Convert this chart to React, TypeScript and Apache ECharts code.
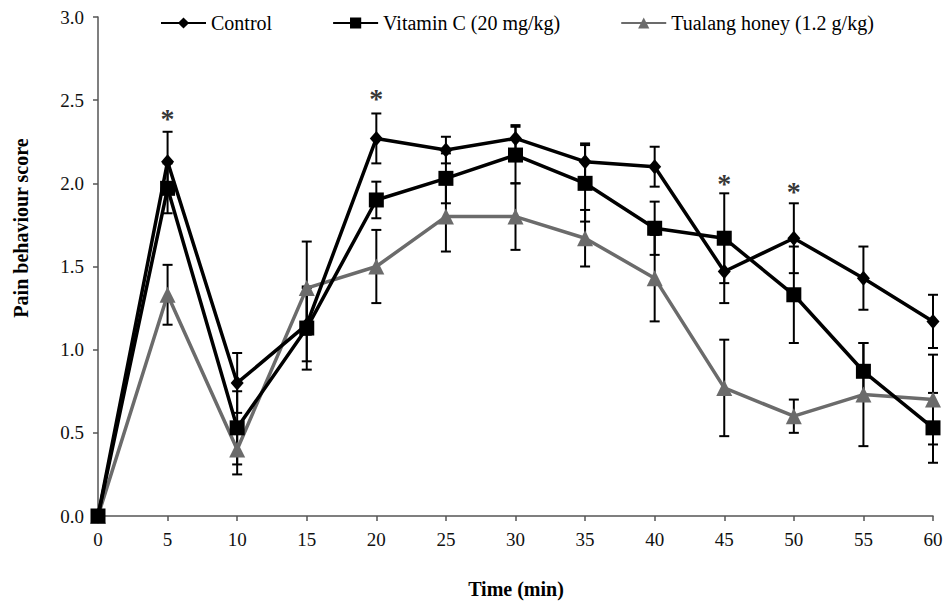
import React, { useEffect, useRef } from "react";
import * as echarts from "echarts";

const times = [0, 5, 10, 15, 20, 25, 30, 35, 40, 45, 50, 55, 60];
const controlValues = [0, 2.13, 0.8, 1.15, 2.27, 2.2, 2.27, 2.13, 2.1, 1.47, 1.67, 1.43, 1.17];
const controlErr = [0, 0.18, 0.18, 0.22, 0.15, 0.08, 0.08, 0.11, 0.12, 0.19, 0.21, 0.19, 0.16];
const vitCValues = [0, 1.97, 0.53, 1.13, 1.9, 2.03, 2.17, 2.0, 1.73, 1.67, 1.33, 0.87, 0.53];
const vitCErr = [0, 0.15, 0.22, 0.25, 0.11, 0.15, 0.17, 0.23, 0.16, 0.27, 0.29, 0.17, 0.21];
const honeyValues = [0, 1.33, 0.4, 1.37, 1.5, 1.8, 1.8, 1.67, 1.43, 0.77, 0.6, 0.73, 0.7];
const honeyErr = [0, 0.18, 0.15, 0.28, 0.22, 0.21, 0.2, 0.17, 0.26, 0.29, 0.1, 0.31, 0.27];
const starTimes = [5, 20, 45, 50];
const starLevels = [2.41, 2.53, 2.02, 1.97];
const seriesNames = ["Control", "Vitamin C (20 mg/kg)", "Tualang honey (1.2 g/kg)"];

const FONT = "'Liberation Serif', 'Times New Roman', serif";

function errData(vals: number[], errs: number[]) {
  const out: number[][] = [];
  times.forEach((t, i) => {
    if (errs[i] > 0) out.push([t, vals[i], errs[i]]);
  });
  return out;
}

function renderErr(params: any, api: any) {
  const x = api.value(0);
  const y = api.value(1);
  const e = api.value(2);
  const top = api.coord([x, y + e]);
  const bot = api.coord([x, y - e]);
  const hw = 5;
  const style = { stroke: "#000", lineWidth: 2 };
  return {
    type: "group",
    children: [
      { type: "line", shape: { x1: top[0], y1: top[1], x2: bot[0], y2: bot[1] }, style },
      { type: "line", shape: { x1: top[0] - hw, y1: top[1], x2: top[0] + hw, y2: top[1] }, style },
      { type: "line", shape: { x1: bot[0] - hw, y1: bot[1], x2: bot[0] + hw, y2: bot[1] }, style },
    ],
  };
}

export default function App() {
  const ref = useRef<HTMLDivElement>(null);
  useEffect(() => {
    if (!ref.current) return;
    const chart = echarts.init(ref.current, null, { renderer: "svg" });
    const pts = (vals: number[]) => times.map((t, i) => [t, vals[i]]);
    const option: any = {
      animation: false,
      backgroundColor: "#fff",
      grid: { left: 98, right: 15, top: 17, bottom: 87, containLabel: false },
      legend: {
        data: seriesNames,
        left: 155,
        top: 8,
        itemWidth: 45,
        itemHeight: 14,
        itemGap: 60,
        textStyle: { fontFamily: FONT, fontSize: 20, color: "#000" },
      },
      xAxis: {
        type: "value",
        min: 0,
        max: 60,
        interval: 5,
        axisLine: { show: true, lineStyle: { color: "#555", width: 1.5 } },
        axisTick: { show: true, inside: false, length: 5, lineStyle: { color: "#555", width: 1.5 } },
        axisLabel: { fontFamily: FONT, fontSize: 19, color: "#111", margin: 14 },
        splitLine: { show: false },
      },
      yAxis: {
        type: "value",
        min: 0,
        max: 3,
        interval: 0.5,
        axisLine: { show: true, lineStyle: { color: "#555", width: 1.5 } },
        axisTick: { show: true, inside: false, length: 5, lineStyle: { color: "#555", width: 1.5 } },
        axisLabel: {
          fontFamily: FONT,
          fontSize: 19,
          color: "#111",
          margin: 14,
          formatter: (v: number) => v.toFixed(1),
        },
        splitLine: { show: false },
      },
      graphic: [
        {
          type: "text",
          x: 21,
          y: 228,
          rotation: Math.PI / 2,
          style: {
            text: "Pain behaviour score",
            fontFamily: FONT,
            fontSize: 20,
            fontWeight: "bold",
            fill: "#000",
            textAlign: "center",
            textVerticalAlign: "middle",
          },
        },
        {
          type: "text",
          x: 516,
          y: 589,
          style: {
            text: "Time (min)",
            fontFamily: FONT,
            fontSize: 20,
            fontWeight: "bold",
            fill: "#000",
            textAlign: "center",
            textVerticalAlign: "middle",
          },
        },
      ],
      series: [
        {
          name: "err-control",
          type: "custom",
          renderItem: renderErr,
          data: errData(controlValues, controlErr),
          encode: { x: 0, y: 1 },
          z: 1,
        },
        {
          name: "err-vitc",
          type: "custom",
          renderItem: renderErr,
          data: errData(vitCValues, vitCErr),
          encode: { x: 0, y: 1 },
          z: 1,
        },
        {
          name: "err-honey",
          type: "custom",
          renderItem: renderErr,
          data: errData(honeyValues, honeyErr),
          encode: { x: 0, y: 1 },
          z: 1,
        },
        {
          name: seriesNames[2],
          type: "line",
          data: pts(honeyValues),
          symbol: "triangle",
          symbolSize: 16,
          color: "#6b6b6b",
          lineStyle: { color: "#6b6b6b", width: 3.5 },
          itemStyle: { color: "#6b6b6b" },
          clip: false,
          z: 3,
        },
        {
          name: seriesNames[1],
          type: "line",
          data: pts(vitCValues),
          symbol: "rect",
          symbolSize: 15,
          color: "#000",
          lineStyle: { color: "#000", width: 3.5 },
          itemStyle: { color: "#000" },
          clip: false,
          z: 4,
        },
        {
          name: seriesNames[0],
          type: "line",
          data: pts(controlValues),
          symbol: "diamond",
          symbolSize: [13, 15],
          color: "#000",
          lineStyle: { color: "#000", width: 3.5 },
          itemStyle: { color: "#000" },
          clip: false,
          z: 5,
        },
        {
          name: "stars",
          type: "scatter",
          data: starTimes.map((t, i) => [t, starLevels[i]]),
          symbol: "circle",
          symbolSize: 2,
          itemStyle: { color: "rgba(255,255,255,0)" },
          label: {
            show: true,
            position: "top",
            distance: -18,
            formatter: "*",
            fontFamily: FONT,
            fontSize: 28,
            fontWeight: "bold",
            color: "#000",
            textBorderWidth: 0,
            textBorderColor: "transparent",
          },
          z: 6,
        },
      ],
    };
    chart.setOption(option);
    return () => chart.dispose();
  }, []);
  return (
    <div
      ref={ref}
      style={{ position: "fixed", left: 0, top: 0, width: 948, height: 603 }}
    />
  );
}
